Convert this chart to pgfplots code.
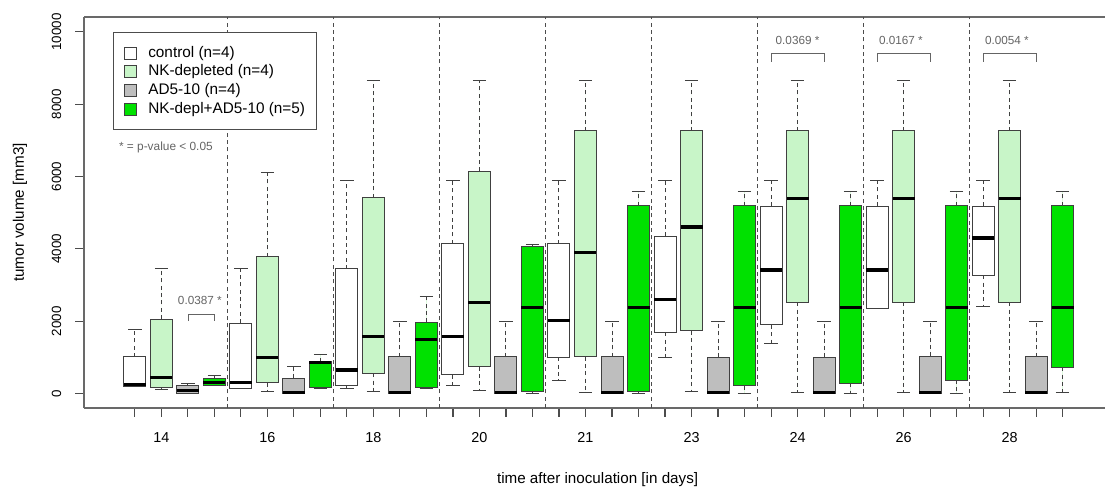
\documentclass[border=0pt]{standalone}
\usepackage{fontspec}
\setmainfont{Liberation Sans}
\usepackage{pgfplots}
\pgfplotsset{compat=1.18}
\usepgfplotslibrary{statistics}
\definecolor{nklight}{RGB}{200,245,200}
\definecolor{adgray}{RGB}{190,190,190}
\definecolor{nkgreen}{RGB}{0,225,0}
\definecolor{frame}{RGB}{105,105,105}
\definecolor{anno}{RGB}{100,100,100}
\pgfplotsset{
  /pgfplots/boxplot/draw/whisker/.code 2 args={%
    \draw[dash pattern=on 3pt off 2.5pt] (boxplot box cs:#1,0.5) -- (boxplot box cs:#2,0.5);
    \draw[solid] (boxplot whisker cs:#2,0) -- (boxplot whisker cs:#2,1);
  },
  bxbase/.style={forget plot, draw=black!75, line width=0.75pt},
  ctrl/.style={bxbase, fill=white},
  nkd/.style={bxbase, fill=nklight},
  ad/.style={bxbase, fill=adgray},
  nkad/.style={bxbase, fill=nkgreen},
}
\begin{document}
\begin{tikzpicture}
\begin{axis}[
  at={(63pt,58.5pt)}, anchor=south west,
  scale only axis, width=765.75pt, height=293.25pt,
  xmin=-1.92, xmax=36.6, ymin=-401, ymax=10414,
  axis x line*=box, axis y line*=left,
  axis line style={frame, line width=0.8pt},
  tick align=outside, tick pos=left,
  major tick length=6.5pt,
  tick style={black!70, line width=0.8pt},
  xtick={0,...,35},
  xticklabels={,14,,,,16,,,,18,,,,20,,,,21,,,,23,,,,24,,,,26,,,,28,,},
  ytick={0,2000,...,10000},
  scaled y ticks=false,
  /pgf/number format/assume math mode=true,
  /pgf/number format/1000 sep={},
  xticklabel style={font=\fontsize{10.8}{13}\selectfont, yshift=-8.5pt},
  yticklabel style={font=\fontsize{10}{12}\selectfont, xshift=-7pt, rotate=90, anchor=south},
  xlabel={time after inoculation [in days]},
  ylabel={tumor volume [mm3]},
  label style={font=\fontsize{11.4}{13}\selectfont},
  xlabel style={at={(axis description cs:0.503,-0.194)}, anchor=base},
  ylabel style={at={(axis description cs:-0.0627,0.5)}, anchor=center},
  boxplot/draw direction=y,
  boxplot/box extend=0.83,
  boxplot/whisker extend=0.5,
  boxplot/every median/.style={black, line width=2.3pt},
  legend style={at={(0.0284,0.962)}, anchor=north west, draw=black!70, line width=0.75pt, fill=white,
    font=\fontsize{11.5}{14}\selectfont, inner xsep=8pt, inner ysep=9pt, row sep=1pt,
    nodes={inner sep=0.5pt, text height=9pt, text depth=3pt},
    /tikz/every odd column/.append style={column sep=8pt}},
  legend cell align=left,
  clip=false,
]
% group separators
\addplot[forget plot, black!70, line width=0.7pt, dash pattern=on 3pt off 2.5pt] coordinates {(3.5,-401) (3.5,10414)};
\addplot[forget plot, black!70, line width=0.7pt, dash pattern=on 3pt off 2.5pt] coordinates {(7.5,-401) (7.5,10414)};
\addplot[forget plot, black!70, line width=0.7pt, dash pattern=on 3pt off 2.5pt] coordinates {(11.5,-401) (11.5,10414)};
\addplot[forget plot, black!70, line width=0.7pt, dash pattern=on 3pt off 2.5pt] coordinates {(15.5,-401) (15.5,10414)};
\addplot[forget plot, black!70, line width=0.7pt, dash pattern=on 3pt off 2.5pt] coordinates {(19.5,-401) (19.5,10414)};
\addplot[forget plot, black!70, line width=0.7pt, dash pattern=on 3pt off 2.5pt] coordinates {(23.5,-401) (23.5,10414)};
\addplot[forget plot, black!70, line width=0.7pt, dash pattern=on 3pt off 2.5pt] coordinates {(27.5,-401) (27.5,10414)};
\addplot[forget plot, black!70, line width=0.7pt, dash pattern=on 3pt off 2.5pt] coordinates {(31.5,-401) (31.5,10414)};
% legend
\addlegendimage{legend image code/.code={\draw[draw=black!75,fill=white,line width=0.6pt] (0pt,-4.5pt) rectangle (9pt,4.5pt);}}
\addlegendentry{control (n=4)}
\addlegendimage{legend image code/.code={\draw[draw=black!75,fill=nklight,line width=0.6pt] (0pt,-4.5pt) rectangle (9pt,4.5pt);}}
\addlegendentry{NK-depleted (n=4)}
\addlegendimage{legend image code/.code={\draw[draw=black!75,fill=adgray,line width=0.6pt] (0pt,-4.5pt) rectangle (9pt,4.5pt);}}
\addlegendentry{AD5-10 (n=4)}
\addlegendimage{legend image code/.code={\draw[draw=black!75,fill=nkgreen,line width=0.6pt] (0pt,-4.5pt) rectangle (9pt,4.5pt);}}
\addlegendentry{NK-depl+AD5-10 (n=5)}
% control
\addplot[ctrl, boxplot prepared={draw position=0, lower whisker=180, lower quartile=200, median=250, upper quartile=1010, upper whisker=1775}] coordinates {};
\addplot[ctrl, boxplot prepared={draw position=4, lower whisker=140, lower quartile=150, median=300, upper quartile=1950, upper whisker=3445}] coordinates {};
\addplot[ctrl, boxplot prepared={draw position=8, lower whisker=133, lower quartile=235, median=650, upper quartile=3445, upper whisker=5905}] coordinates {};
\addplot[ctrl, boxplot prepared={draw position=12, lower whisker=216, lower quartile=512, median=1572, upper quartile=4143, upper whisker=5897}] coordinates {};
\addplot[ctrl, boxplot prepared={draw position=16, lower whisker=373, lower quartile=1000, median=2014, upper quartile=4143, upper whisker=5897}] coordinates {};
\addplot[ctrl, boxplot prepared={draw position=20, lower whisker=1000, lower quartile=1693, median=2594, upper quartile=4347, upper whisker=5897}] coordinates {};
\addplot[ctrl, boxplot prepared={draw position=24, lower whisker=1388, lower quartile=1895, median=3416, upper quartile=5186, upper whisker=5897}] coordinates {};
\addplot[ctrl, boxplot prepared={draw position=28, lower whisker=2360, lower quartile=2365, median=3416, upper quartile=5186, upper whisker=5897}] coordinates {};
\addplot[ctrl, boxplot prepared={draw position=32, lower whisker=2401, lower quartile=3269, median=4301, upper quartile=5186, upper whisker=5897}] coordinates {};
% NK-depleted
\addplot[nkd, boxplot prepared={draw position=1, lower whisker=115, lower quartile=160, median=437, upper quartile=2060, upper whisker=3445}] coordinates {};
\addplot[nkd, boxplot prepared={draw position=5, lower whisker=50, lower quartile=300, median=1000, upper quartile=3785, upper whisker=6108}] coordinates {};
\addplot[nkd, boxplot prepared={draw position=9, lower whisker=50, lower quartile=558, median=1572, upper quartile=5415, upper whisker=8670}] coordinates {};
\addplot[nkd, boxplot prepared={draw position=13, lower whisker=97, lower quartile=741, median=2522, upper quartile=6154, upper whisker=8670}] coordinates {};
\addplot[nkd, boxplot prepared={draw position=17, lower whisker=33, lower quartile=1018, median=3905, upper quartile=7261, upper whisker=8670}] coordinates {};
\addplot[nkd, boxplot prepared={draw position=21, lower whisker=50, lower quartile=1729, median=4605, upper quartile=7261, upper whisker=8670}] coordinates {};
\addplot[nkd, boxplot prepared={draw position=25, lower whisker=33, lower quartile=2522, median=5398, upper quartile=7261, upper whisker=8670}] coordinates {};
\addplot[nkd, boxplot prepared={draw position=29, lower whisker=33, lower quartile=2522, median=5398, upper quartile=7261, upper whisker=8670}] coordinates {};
\addplot[nkd, boxplot prepared={draw position=33, lower whisker=33, lower quartile=2522, median=5398, upper quartile=7261, upper whisker=8670}] coordinates {};
% AD5-10
\addplot[ad, boxplot prepared={draw position=2, lower whisker=0, lower quartile=5, median=85, upper quartile=220, upper whisker=263}] coordinates {};
\addplot[ad, boxplot prepared={draw position=6, lower whisker=0, lower quartile=5, median=33, upper quartile=420, upper whisker=752}] coordinates {};
\addplot[ad, boxplot prepared={draw position=10, lower whisker=0, lower quartile=5, median=20, upper quartile=1018, upper whisker=1986}] coordinates {};
\addplot[ad, boxplot prepared={draw position=14, lower whisker=0, lower quartile=5, median=20, upper quartile=1018, upper whisker=1986}] coordinates {};
\addplot[ad, boxplot prepared={draw position=18, lower whisker=0, lower quartile=5, median=20, upper quartile=1018, upper whisker=1986}] coordinates {};
\addplot[ad, boxplot prepared={draw position=22, lower whisker=0, lower quartile=5, median=20, upper quartile=1000, upper whisker=1986}] coordinates {};
\addplot[ad, boxplot prepared={draw position=26, lower whisker=0, lower quartile=5, median=20, upper quartile=1000, upper whisker=1986}] coordinates {};
\addplot[ad, boxplot prepared={draw position=30, lower whisker=0, lower quartile=5, median=20, upper quartile=1030, upper whisker=1986}] coordinates {};
\addplot[ad, boxplot prepared={draw position=34, lower whisker=0, lower quartile=5, median=20, upper quartile=1018, upper whisker=1986}] coordinates {};
% NK-depl + AD5-10
\addplot[nkad, boxplot prepared={draw position=3, lower whisker=222, lower quartile=227, median=300, upper quartile=420, upper whisker=493}] coordinates {};
\addplot[nkad, boxplot prepared={draw position=7, lower whisker=125, lower quartile=170, median=850, upper quartile=880, upper whisker=1092}] coordinates {};
\addplot[nkad, boxplot prepared={draw position=11, lower whisker=125, lower quartile=171, median=1500, upper quartile=1969, upper whisker=2678}] coordinates {};
\addplot[nkad, boxplot prepared={draw position=15, lower whisker=5, lower quartile=50, median=2384, upper quartile=4060, upper whisker=4135}] coordinates {};
\addplot[nkad, boxplot prepared={draw position=19, lower whisker=10, lower quartile=50, median=2384, upper quartile=5195, upper whisker=5593}] coordinates {};
\addplot[nkad, boxplot prepared={draw position=23, lower whisker=10, lower quartile=216, median=2384, upper quartile=5195, upper whisker=5593}] coordinates {};
\addplot[nkad, boxplot prepared={draw position=27, lower whisker=10, lower quartile=281, median=2384, upper quartile=5195, upper whisker=5593}] coordinates {};
\addplot[nkad, boxplot prepared={draw position=31, lower whisker=10, lower quartile=373, median=2384, upper quartile=5195, upper whisker=5593}] coordinates {};
\addplot[nkad, boxplot prepared={draw position=35, lower whisker=33, lower quartile=724, median=2384, upper quartile=5195, upper whisker=5593}] coordinates {};
% annotations
\draw[anno, line width=0.6pt] (axis cs:2,2000) |- (axis cs:3,2200) -- (axis cs:3,2000);
\node[anno, font=\fontsize{8.8}{10}\selectfont] at (axis cs:2.45,2560) {0.0387 *};
\draw[anno, line width=0.6pt] (axis cs:24,9177) |- (axis cs:26,9410) -- (axis cs:26,9177);
\node[anno, font=\fontsize{8.8}{10}\selectfont] at (axis cs:25,9760) {0.0369 *};
\draw[anno, line width=0.6pt] (axis cs:28,9177) |- (axis cs:30,9410) -- (axis cs:30,9177);
\node[anno, font=\fontsize{8.8}{10}\selectfont] at (axis cs:28.9,9760) {0.0167 *};
\draw[anno, line width=0.6pt] (axis cs:32,9177) |- (axis cs:34,9410) -- (axis cs:34,9177);
\node[anno, font=\fontsize{8.8}{10}\selectfont] at (axis cs:32.9,9760) {0.0054 *};
\node[anno, font=\fontsize{8.9}{10}\selectfont] at (axis cs:1.17,6818) {* = p-value < 0.05};
\end{axis}
\pgfresetboundingbox
\useasboundingbox (0,0) rectangle (828.75pt,364.5pt);
\end{tikzpicture}
\end{document}
